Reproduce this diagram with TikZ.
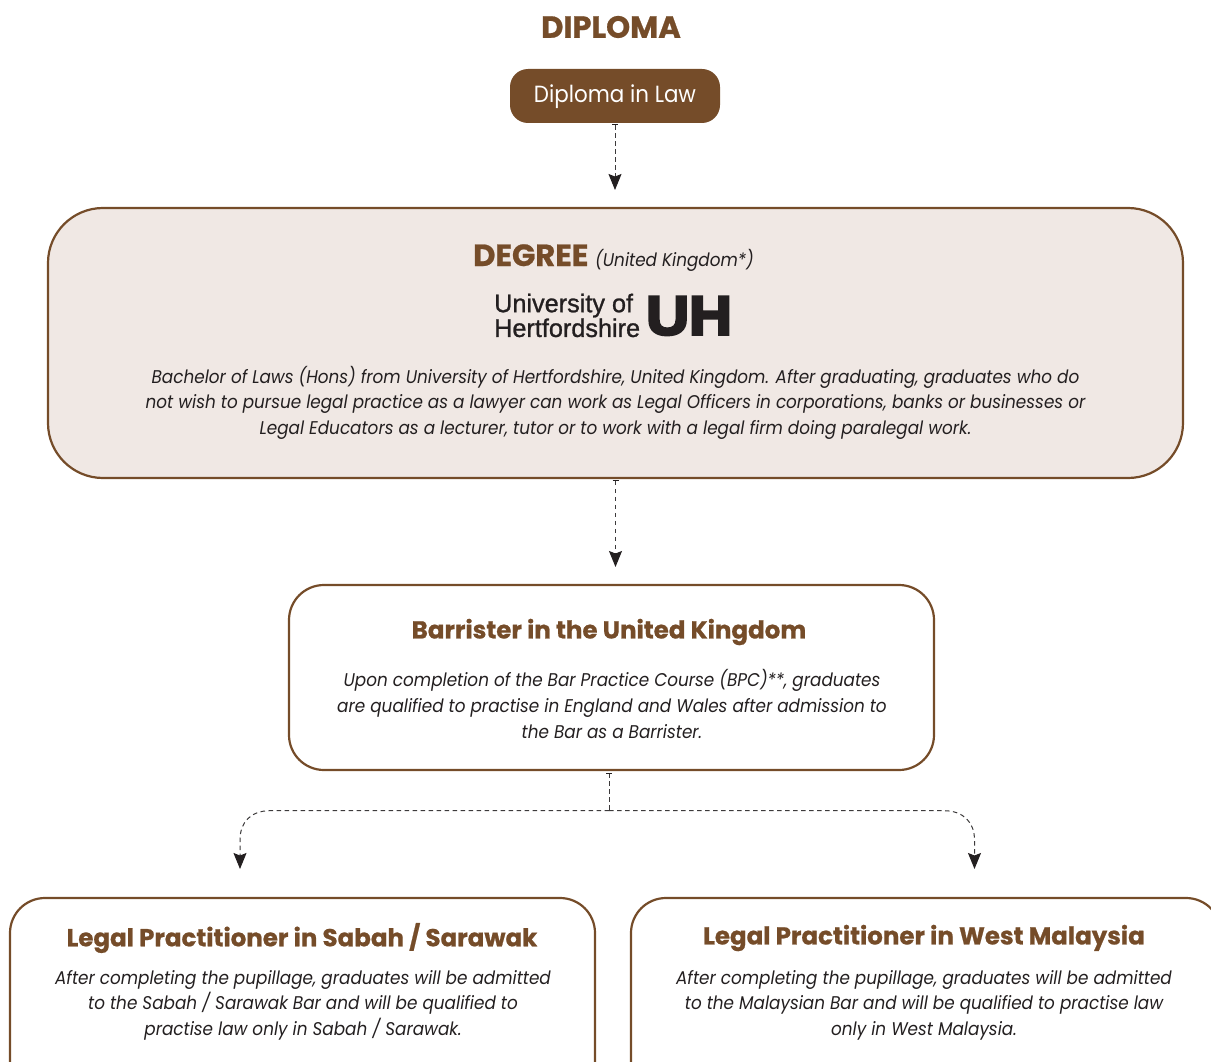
\documentclass[tikz,border=0pt]{standalone}
\usepackage{fontspec}
\usetikzlibrary{arrows.meta}
\setmainfont{Poppins}[FakeStretch=0.915]
\newfontfamily\headfont{Poppins}[UprightFont=* Bold,FakeStretch=1.0,FakeBold=0.8]
\newfontfamily\logofont{Liberation Sans}[FakeBold=1,FakeStretch=0.99]
\newfontfamily\uhfont{Liberation Sans Bold}[FakeBold=5,FakeStretch=1.08]
\definecolor{brn}{HTML}{754C29}
\definecolor{pale}{HTML}{F0E8E4}
\definecolor{ink}{HTML}{231F20}
\definecolor{dashc}{HTML}{3C3A3B}
\tikzset{
  box/.style={draw=brn,line width=2.2pt,rounded corners=#1,anchor=north west,inner sep=0pt,outer sep=0pt},
  head/.style={text=brn,font=\headfont\fontsize{30.6}{36}\selectfont,inner sep=0pt},
  sub/.style={text=brn,font=\headfont\fontsize{24.5}{30}\selectfont,inner sep=0pt},
  body/.style={text=ink,align=center,inner sep=0pt,font=\itshape\fontsize{18.4}{25.6}\selectfont},
  linkbase/.style={draw=dashc,line width=1pt,dash pattern=on 4.5pt off 3.5pt},
  tip/.style={-{Stealth[length=16pt,width=13pt,inset=2.5pt,color=ink]}},
  tick/.style={{Bar[width=6pt,line width=1pt,color=ink,sep=0pt]}-},
  ticktip/.style={{Bar[width=6pt,line width=1pt,color=ink,sep=0pt]}-{Stealth[length=16pt,width=13pt,inset=2.5pt,color=ink]}},
}
\begin{document}
\begin{tikzpicture}[x=1pt,y=-1pt]
\useasboundingbox (0,0) rectangle (1211,1062);
\clip (0,0) rectangle (1211,1062);
% boxes
\node[box=18pt,fill=brn,draw=none,minimum width=210pt,minimum height=54pt] (diploma) at (510,69) {};
\node[box=55pt,fill=pale,minimum width=1135pt,minimum height=270pt] (degree) at (48,208) {};
\node[box=35pt,minimum width=645pt,minimum height=185pt] (barrister) at (289,585) {};
\node[box=35pt,minimum width=585pt,minimum height=200pt] (sabah) at (10,898) {};
\node[box=35pt,minimum width=590pt,minimum height=200pt] (west) at (631,898) {};
% texts
\node[head] (t1) at (611,27) {DIPLOMA};
\node[text=white,inner sep=0pt,font=\fontsize{23.4}{28}\selectfont] (t2) at (615,97) {Diploma in Law};
\node[head,anchor=base west] (t3) at (473,266) {DEGREE};
\node[text=ink,inner sep=0pt,anchor=base west,font=\itshape\fontsize{18.4}{22}\selectfont] (t4) at (595,266) {(United Kingdom*)};
\node[text=ink,inner sep=0pt,align=left,anchor=north west,font=\logofont\fontsize{25.5}{21.5}\selectfont] (t5) at (494,293.5) {University of\\Hertfordshire};
\node[text=ink,inner sep=0pt,anchor=base west,font=\uhfont\fontsize{55}{55}\selectfont] (t6) at (646,334.5) {UH};
\node[body] (t7) at (615.5,402.5) {Bachelor of Laws (Hons) from University of Hertfordshire, United Kingdom. After graduating, graduates who do\\not wish to pursue legal practice as a lawyer can work as Legal Officers in corporations, banks or businesses or\\Legal Educators as a lecturer, tutor or to work with a legal firm doing paralegal work.};
\node[sub] (t8) at (609,632) {Barrister in the United Kingdom};
\node[body] (t9) at (612,704) {Upon completion of the Bar Practice Course (BPC)**, graduates\\are qualified to practise in England and Wales after admission to\\the Bar as a Barrister.};
\node[sub] (t10) at (302,938) {Legal Practitioner in Sabah / Sarawak};
\node[body] (t11) at (303,1005) {After completing the pupillage, graduates will be admitted\\to the Sabah / Sarawak Bar and will be qualified to\\practise law only in Sabah / Sarawak.};
\node[sub] (t12) at (924,938) {Legal Practitioner in West Malaysia};
\node[body] (t13) at (924,1005) {After completing the pupillage, graduates will be admitted\\to the Malaysian Bar and will be qualified to practise law\\only in West Malaysia.};
% connector ends
\coordinate (a1s) at (615,124.5);
\coordinate (a1e) at (615,190);
\coordinate (a2s) at (615.5,480);
\coordinate (a2e) at (615.5,567);
\coordinate (a3s) at (609,772.5);
\coordinate (junc) at (609,810.7);
\coordinate (lend) at (240,869);
\coordinate (rend) at (974.5,869);
\draw[linkbase,ticktip] (a1s) -- (a1e);
\draw[linkbase,ticktip] (a2s) -- (a2e);
\draw[linkbase,tick] (a3s) -- (junc);
\draw[linkbase,tip] (junc) -- (270,810.7) .. controls (251,810.7) and (240,822) .. (240,840) -- (lend);
\draw[linkbase,tip] (junc) -- (944,810.7) .. controls (963,810.7) and (974.5,822) .. (974.5,840) -- (rend);
\end{tikzpicture}
\end{document}
